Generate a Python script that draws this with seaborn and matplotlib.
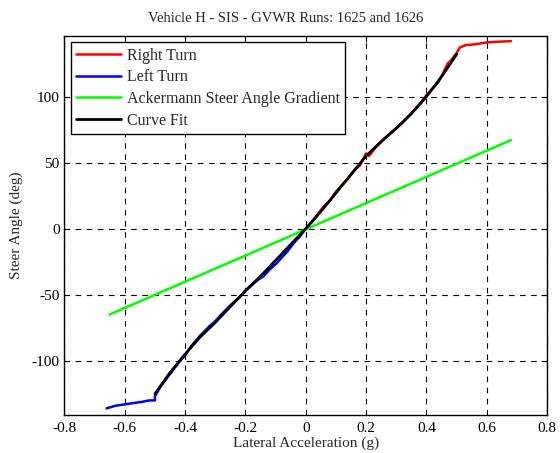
import matplotlib
matplotlib.use("Agg")
import matplotlib.pyplot as plt
import seaborn as sns

# Right turn (measured)
right_x = [0.00, 0.02, 0.04, 0.06, 0.08, 0.10, 0.12, 0.14, 0.16, 0.18, 0.20, 0.21, 0.23,
           0.26, 0.28, 0.30, 0.32, 0.34, 0.36, 0.38, 0.40, 0.42, 0.44, 0.46, 0.47, 0.48,
           0.49, 0.50, 0.51, 0.53, 0.56, 0.60, 0.64, 0.68]
right_y = [0, 5, 11, 17, 21, 28, 33, 38, 44, 48, 57, 55, 61,
           68, 72, 76, 80, 85, 90, 95, 101, 106, 111, 120, 125, 127,
           130, 133, 137, 139, 139.5, 141, 141.5, 142]

# Left turn (measured)
left_x = [0.00, -0.02, -0.04, -0.06, -0.08, -0.10, -0.12, -0.14, -0.16, -0.18, -0.20,
          -0.22, -0.25, -0.28, -0.30, -0.32, -0.35, -0.38, -0.40, -0.42, -0.44, -0.46,
          -0.48, -0.49, -0.50, -0.50, -0.52, -0.54, -0.57, -0.60, -0.63, -0.66]
left_y = [0, -6, -11, -17, -22, -27, -31, -36, -39, -43, -47,
          -52, -58, -65, -70, -74, -81, -89, -96, -101, -107, -113,
          -119, -123, -127, -130, -130, -131, -132, -133, -134, -136]

# Ackermann steer angle gradient
ack_x = [-0.65, 0.68]
ack_y = [-65, 67]

# Curve fit
fit_x = [-0.50, -0.45, -0.40, -0.35, -0.30, -0.25, -0.20, -0.15, -0.10, -0.05, 0.00,
         0.05, 0.10, 0.15, 0.20, 0.25, 0.30, 0.35, 0.40, 0.45, 0.50]
fit_y = [-125, -109, -95, -82, -71, -59, -47, -36, -24, -12, 0,
         13, 27, 41, 55, 66, 76, 87, 100, 115, 132]

sns.set_style("white")
plt.rcParams['font.family'] = ['Liberation Serif', 'DejaVu Serif']
plt.rcParams['axes.unicode_minus'] = False

fig = plt.figure(figsize=(5.6, 4.53), dpi=100)
ax = fig.add_axes([0.115, 0.084, 0.862, 0.837])

sns.lineplot(x=right_x, y=right_y, sort=False, estimator=None, color='#ff0000', lw=1.8, label='Right Turn', ax=ax)
sns.lineplot(x=left_x, y=left_y, sort=False, estimator=None, color='#0000ff', lw=1.8, label='Left Turn', ax=ax)
sns.lineplot(x=ack_x, y=ack_y, sort=False, estimator=None, color='#00ff00', lw=1.8, label='Ackermann Steer Angle Gradient', ax=ax)
sns.lineplot(x=fit_x, y=fit_y, sort=False, estimator=None, color='black', lw=2, label='Curve Fit', ax=ax)

ax.set_xlim(-0.8, 0.8)
ax.set_ylim(-141, 146)
ax.set_xticks([-0.8, -0.6, -0.4, -0.2, 0, 0.2, 0.4, 0.6, 0.8])
ax.set_xticklabels(['-0.8', '-0.6', '-0.4', '-0.2', '0', '0.2', '0.4', '0.6', '0.8'])
ax.set_yticks([-100, -50, 0, 50, 100])
ax.grid(True, color='black', linestyle=(0, (5, 5)), linewidth=0.8)
ax.tick_params(direction='in', top=True, right=True, length=4, width=0.8, labelsize=11,
               colors='black')
ax.tick_params(axis='x', pad=5)
for s in ax.spines.values():
    s.set_color('black')
    s.set_linewidth(1)

ax.set_title('Vehicle H - SIS - GVWR Runs: 1625 and 1626', fontsize=10.5, pad=10, x=0.458)
ax.set_xlabel('Lateral Acceleration (g)', fontsize=11, labelpad=1)
ax.set_ylabel('Steer Angle (deg)', fontsize=11, labelpad=6)

leg = ax.legend(loc='upper left', fontsize=11.5, handlelength=2.8, frameon=True, fancybox=False,
                borderaxespad=0.4, labelspacing=0.35, handletextpad=0.35, borderpad=0.35)
leg.get_frame().set_edgecolor('black')
leg.get_frame().set_linewidth(1)
leg.get_frame().set_alpha(1)

fig.savefig('out.png', dpi=100)
